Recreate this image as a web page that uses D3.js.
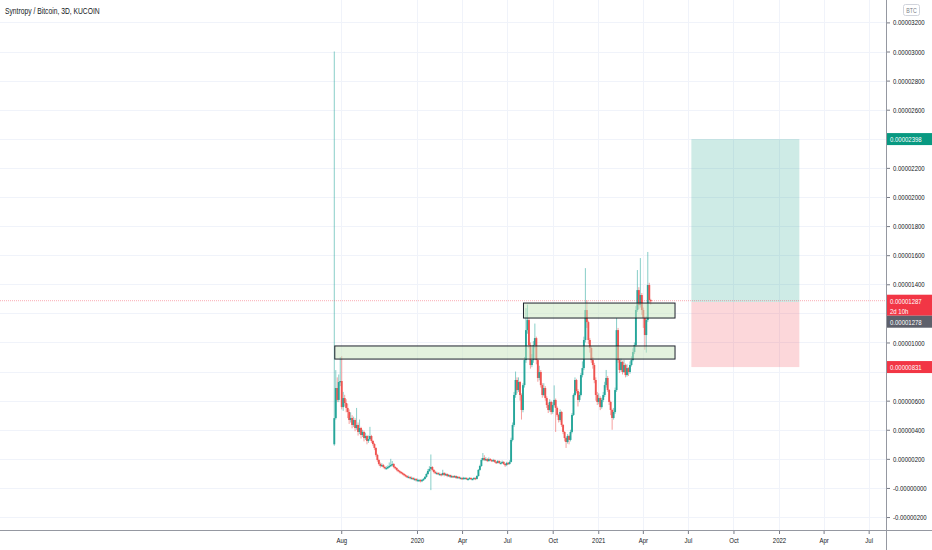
<!DOCTYPE html>
<html>
<head>
<meta charset="utf-8">
<script src="https://cdn.jsdelivr.net/npm/d3@7"></script>
<style>
body{margin:0;background:#fff;}
text{font-family:"Liberation Sans",Arial,sans-serif;}
</style>
</head>
<body>
<div id="chart"></div>
<script>
// prices in units of 0.00000001 BTC, one candle every 3 days from 2019-07-18
var firstOpen=300;
var closes=[480,687,605,728,735,556,618,584,550,522,467,481,433,467,412,433,385,412,364,385,
343,357,323,336,357,323,302,275,227,192,165,151,158,144,137,137,144,151,158,165,
144,137,124,117,110,103,96,89,82,76,76,69,69,62,62,55,55,55,48,55,
62,76,96,117,131,144,124,110,103,103,96,96,89,103,89,96,82,89,76,82,
76,82,69,76,69,69,62,69,69,62,62,69,62,62,69,62,82,124,151,192,
206,192,199,185,199,192,185,192,179,172,185,172,172,179,165,158,172,165,179,330,
433,639,742,673,728,639,536,707,879,1085,1154,982,845,879,982,1030,879,756,797,707,
639,687,618,570,536,591,522,570,605,550,502,467,522,433,385,343,316,357,330,385,
502,639,742,666,605,639,776,824,1017,1223,1140,1017,962,879,845,742,639,591,618,556,
605,639,707,756,673,591,536,481,522,673,1085,879,811,866,797,845,776,824,797,845,
879,934,982,1223,1360,1257,1326,1223,1168,1051,1154,1395,1292,1287];
var highs=[3000,810,760,780,900,905,660,640,610,580,540,520,500,490,480,550,450,470,420,400,
395,380,365,360,420,365,330,310,280,235,200,175,170,165,150,150,155,175,200,185,
170,150,142,130,122,115,110,102,95,88,85,80,78,74,70,68,64,62,60,62,
68,82,105,130,150,230,150,130,118,112,108,106,100,125,108,104,100,96,92,90,
86,88,86,82,80,76,74,76,75,72,70,74,72,68,74,72,88,130,160,205,
240,225,212,205,210,205,198,200,196,185,192,190,182,188,184,170,180,178,190,345,
450,660,800,760,760,735,650,720,900,1236,1260,1170,1000,920,1010,1130,1040,890,840,810,
720,720,700,630,585,610,600,590,705,615,560,510,540,530,440,390,350,370,365,400,
515,650,760,750,680,660,790,870,1040,1511,1290,1150,1030,975,900,860,760,660,650,630,
620,660,730,811,770,680,600,545,550,690,1168,1100,890,890,875,880,855,850,830,870,
905,960,1000,1250,1498,1380,1580,1340,1240,1180,1180,1622,1410,1300];
var lows=[290,470,590,590,700,540,530,560,520,480,440,450,410,420,390,400,360,370,340,350,
320,330,300,310,330,310,290,260,215,180,155,140,145,135,128,128,130,138,145,150,
135,128,115,108,100,95,88,80,74,68,68,60,60,55,52,45,45,42,38,40,
48,58,70,90,110,-15,115,100,95,94,88,86,80,84,80,82,74,76,68,70,
68,70,62,64,62,62,55,58,62,55,56,58,55,55,58,54,58,78,118,145,
185,185,185,178,180,184,178,180,172,165,168,165,165,168,158,145,150,158,160,175,
320,420,620,650,660,600,470,520,690,860,1060,960,820,830,860,960,850,730,740,690,
620,630,600,550,515,525,505,510,560,385,490,450,455,420,370,320,275,305,300,320,
375,495,630,650,560,590,630,760,810,1000,1100,990,930,860,820,720,600,570,575,535,
545,590,625,690,660,570,500,400,470,510,660,860,790,800,780,790,760,765,770,785,
835,870,920,970,1210,1230,1240,1190,1100,950,930,1140,1270,1260];

var xTickDates=["2019-08-01","2020-01-01","2020-04-01","2020-07-01","2020-10-01","2021-01-01",
"2021-04-01","2021-07-01","2021-10-01","2022-01-01","2022-04-01","2022-07-01"];
var xTickLabels=["Aug","2020","Apr","Jul","Oct","2021","Apr","Jul","Oct","2022","Apr","Jul"];
var yTicks=[-200,0,200,400,600,800,1000,1200,1400,1600,1800,2000,2200,2400,2600,2800,3000,3200];
// tick labels that sit under the price tags on the scale
var yHidden=[800,1200,2400];

// drawings
var zones=[
  {from:"2019-07-19",to:"2021-06-05",lo:886,hi:976},
  {from:"2020-08-03",to:"2021-06-05",lo:1168,hi:1271}
];
var posFrom="2021-07-08",posTo="2022-02-11";
var posEntry=1278,posTarget=2398,posStop=831;
var lastPrice=1287;

var wide=932,high=550;
var plotW=886,plotH=530;
var up="#26a69a",down="#ef5350";
var parse=d3.utcParse("%Y-%m-%d");
var sx=0.75; // horizontal squeeze to mimic the narrow chart font

var svg=d3
  .select("#chart")
  .append("svg")
  .attr("width",wide)
  .attr("height",high)
  .style("display","block");

var xscale=d3
  .scaleUtc()
  .domain([parse("2017-09-11"),parse("2022-08-05")])
  .range([0,plotW]);
var yscale=d3
  .scaleLinear()
  .domain([-289,3354])
  .range([plotH,0]);

function fmt(v){
  if (v===0){
    return "-0.00000000";
  }
  var s=(Math.abs(v)*1e-8).toFixed(8);
  return (v<0?"-":"")+s;
}
function narrowText(g,x,y,txt,size,color,anchor){
  return g.append("text")
    .attr("transform","translate("+x+","+y+") scale("+sx+",1)")
    .attr("text-anchor",anchor||"start")
    .attr("fill",color)
    .style("font-size",size+"px")
    .text(txt);
}

// grid
var grid=svg.append("g").attr("class","grid");
grid.selectAll("line.h")
  .data(yTicks)
  .enter()
  .append("line")
  .attr("x1",0)
  .attr("x2",plotW)
  .attr("y1",function(d){return Math.round(yscale(d))+0.5;})
  .attr("y2",function(d){return Math.round(yscale(d))+0.5;})
  .attr("stroke","#f0f3fa");
grid.selectAll("line.v")
  .data(xTickDates)
  .enter()
  .append("line")
  .attr("x1",function(d){return Math.round(xscale(parse(d)))+0.5;})
  .attr("x2",function(d){return Math.round(xscale(parse(d)))+0.5;})
  .attr("y1",0)
  .attr("y2",plotH)
  .attr("stroke","#f0f3fa");

// long position box
svg.append("rect")
  .attr("x",xscale(parse(posFrom)))
  .attr("width",xscale(parse(posTo))-xscale(parse(posFrom)))
  .attr("y",yscale(posTarget))
  .attr("height",yscale(posEntry)-yscale(posTarget))
  .attr("fill","rgba(8,153,129,0.2)");
svg.append("rect")
  .attr("x",xscale(parse(posFrom)))
  .attr("width",xscale(parse(posTo))-xscale(parse(posFrom)))
  .attr("y",yscale(posEntry))
  .attr("height",yscale(posStop)-yscale(posEntry))
  .attr("fill","rgba(242,54,69,0.2)");

// candles
var start=parse("2019-07-18");
var candles=closes.map(function(c,i){
  return {
    date:d3.utcDay.offset(start,i*3),
    open:i===0?firstOpen:closes[i-1], // open at previous close
    high:highs[i],
    low:lows[i],
    close:c
  };
});
var bw=1.9;
var cg=svg.append("g").attr("class","candles");
cg.selectAll("line")
  .data(candles)
  .enter()
  .append("line")
  .attr("x1",function(d){return xscale(d.date);})
  .attr("x2",function(d){return xscale(d.date);})
  .attr("y1",function(d){return yscale(d.high);})
  .attr("y2",function(d){return yscale(d.low);})
  .attr("stroke",function(d){return d.close>=d.open?up:down;})
  .attr("stroke-opacity",0.55)
  .attr("stroke-width",1);
cg.selectAll("rect")
  .data(candles)
  .enter()
  .append("rect")
  .attr("x",function(d){return xscale(d.date)-bw/2;})
  .attr("width",bw)
  .attr("y",function(d){return yscale(Math.max(d.open,d.close));})
  .attr("height",function(d){
    return Math.max(1.3,Math.abs(yscale(d.open)-yscale(d.close)));
  })
  .attr("fill",function(d){return d.close>=d.open?up:down;});

// zones
svg.append("g")
  .selectAll("rect")
  .data(zones)
  .enter()
  .append("rect")
  .attr("x",function(d){return xscale(parse(d.from));})
  .attr("width",function(d){return xscale(parse(d.to))-xscale(parse(d.from));})
  .attr("y",function(d){return yscale(d.hi);})
  .attr("height",function(d){return yscale(d.lo)-yscale(d.hi);})
  .attr("fill","rgba(200,230,190,0.5)")
  .attr("stroke","#1e222d")
  .attr("stroke-width",1);

// last price line
svg.append("line")
  .attr("x1",0)
  .attr("x2",plotW)
  .attr("y1",yscale(lastPrice))
  .attr("y2",yscale(lastPrice))
  .attr("stroke","#f23645")
  .attr("stroke-opacity",0.6)
  .attr("stroke-width",0.7)
  .attr("stroke-dasharray","1,1");

// axes frame
svg.append("line")
  .attr("x1",0).attr("x2",wide)
  .attr("y1",plotH+0.5).attr("y2",plotH+0.5)
  .attr("stroke","#9598a1");
svg.append("line")
  .attr("x1",plotW+0.5).attr("x2",plotW+0.5)
  .attr("y1",0).attr("y2",high)
  .attr("stroke","#9598a1");

// y axis
var yaxis=d3.axisRight(yscale)
  .tickValues(yTicks)
  .tickSize(3)
  .tickPadding(3)
  .tickFormat(function(d){return yHidden.indexOf(d)>=0?"":fmt(d);});
var yg=svg.append("g")
  .attr("transform","translate("+(plotW+1)+",0)")
  .call(yaxis);
yg.select(".domain").remove();
yg.selectAll("line").attr("stroke","#787b86");
yg.selectAll("text")
  .attr("fill","#131722")
  .style("font-size","8px")
  .attr("x",6/sx)
  .attr("transform","scale("+sx+",1)");

// x axis
var xaxis=d3.axisBottom(xscale)
  .tickValues(xTickDates.map(parse))
  .tickSize(3)
  .tickPadding(3)
  .tickFormat(function(d,i){return xTickLabels[i];});
var xg=svg.append("g")
  .attr("transform","translate(0,"+(plotH+1)+")")
  .call(xaxis);
xg.select(".domain").remove();
xg.selectAll("line").attr("stroke","#787b86");
xg.selectAll("text")
  .attr("fill","#131722")
  .style("font-size","8px")
  .attr("transform","scale("+sx+",1)");

// price labels on the scale
function priceTag(v,bg,lines,h){
  var y=yscale(v);
  var g=svg.append("g");
  g.append("rect")
    .attr("x",plotW+1)
    .attr("y",y-6)
    .attr("width",wide-plotW-1)
    .attr("height",h)
    .attr("fill",bg);
  lines.forEach(function(t,i){
    narrowText(g,plotW+4,y+3+i*10,t,8,"#fff");
  });
}
priceTag(posTarget,"#089981",[fmt(posTarget)],12);
priceTag(posStop,"#f23645",[fmt(posStop)],12);
priceTag(lastPrice,"#f23645",[fmt(lastPrice),"2d 10h"],21);
// entry tag pushed below the last price tag
var ey=yscale(lastPrice)+15;
svg.append("rect")
  .attr("x",plotW+1).attr("y",ey)
  .attr("width",wide-plotW-1).attr("height",12)
  .attr("fill","#5d606b");
narrowText(svg,plotW+4,ey+9,fmt(posEntry),8,"#fff");

// currency box
svg.append("rect")
  .attr("x",903.5).attr("y",4.5)
  .attr("width",16).attr("height",11)
  .attr("rx",2)
  .attr("fill","#fff")
  .attr("stroke","#d1d4dc");
narrowText(svg,911.5,12.5,"BTC",7,"#787b86","middle");

// title
narrowText(svg,5,14,"Syntropy / Bitcoin, 3D, KUCOIN",9,"#131722");
</script>
</body>
</html>
